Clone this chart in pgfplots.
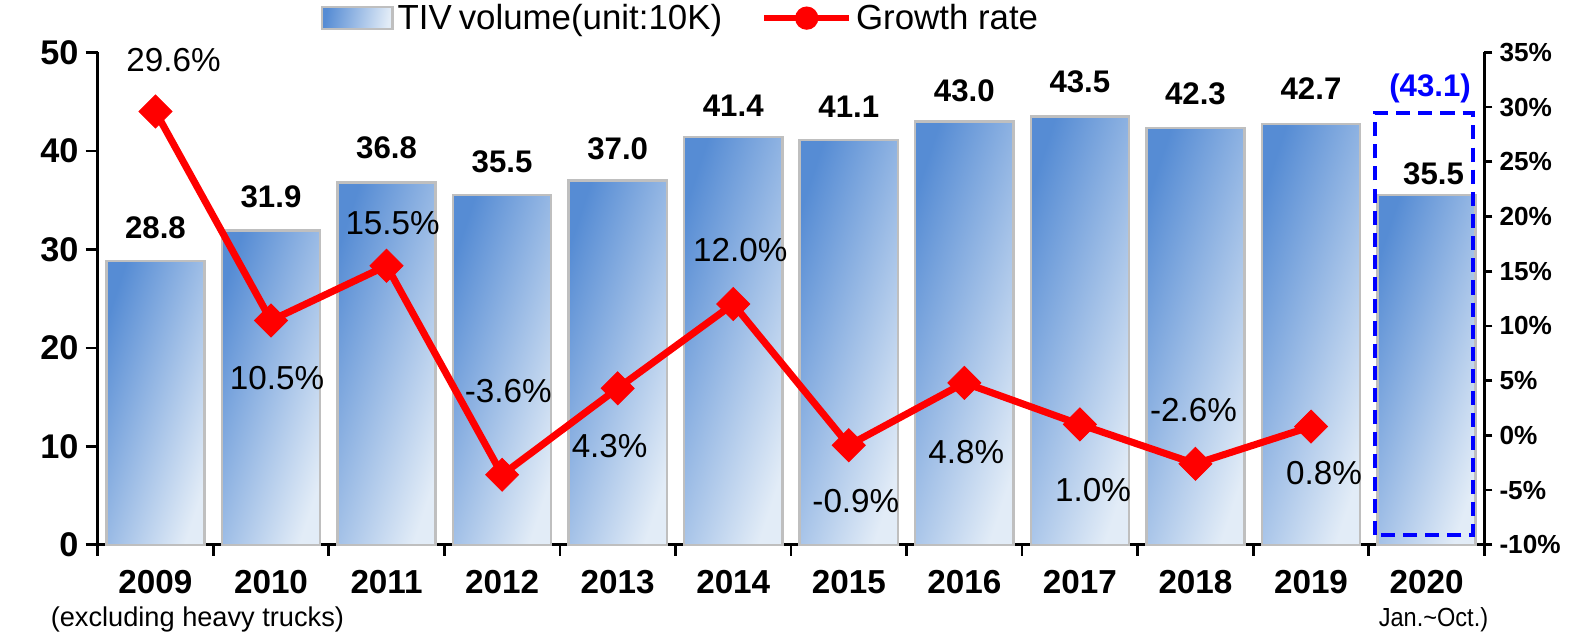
\documentclass[border=0pt]{standalone}
\usepackage{fontspec}
\setmainfont{Liberation Sans}
\newfontfamily\narrowfont[FakeStretch=0.9]{Liberation Sans}
\usepackage{pgfplots}
\usepackage{pgfplotstable}
\pgfplotsset{compat=1.18}
\definecolor{bardark}{RGB}{86,140,212}
\definecolor{barlight}{RGB}{226,236,247}
\definecolor{barborder}{RGB}{191,191,191}
\definecolor{linered}{RGB}{255,0,0}
\definecolor{boxblue}{RGB}{0,0,255}

\pgfplotstableread{
x y lab dx dy
0 28.8 28.8 0 16.5
1 31.9 31.9 0 17
2 36.8 36.8 0 17
3 35.5 35.5 0 16.5
4 37.0 37.0 0 15.5
5 41.4 41.4 0 15.5
6 41.1 41.1 0 16.5
7 43.0 43.0 0 15
8 43.5 43.5 0 17
9 42.3 42.3 0 17
10 42.7 42.7 0 17.5
11 35.5 35.5 3.5 10.5
}\bartable

\pgfplotstableread{
x y lab dx dy
0 29.6 29.6 9 25.3
1 10.5 10.5 3 -28.5
2 15.5 15.5 3 21
3 -3.6 -3.6 3 41.7
4 4.3 4.3 -4 -28.7
5 12.0 12.0 3.5 27
6 -0.9 -0.9 3.5 -27.5
7 4.8 4.8 1 -34.5
8 1.0 1.0 6.5 -32.7
9 -2.6 -2.6 -1 26.8
10 0.8 0.8 6.5 -23.2
}\growthtable

\begin{document}
\begin{tikzpicture}
\useasboundingbox (-48.5pt,-45pt) rectangle (735.5pt,270.5pt);
\begin{axis}[
  at={(0pt,0pt)}, anchor=south west,
  scale only axis, width=688.5pt, height=244.5pt,
  xmin=-0.5, xmax=11.5, ymin=0, ymax=50,
  clip=false,
  axis x line*=bottom, axis y line*=left,
  axis line style={line width=1.3pt, black},
  tick align=outside,
  xtick={0,...,11},
  xticklabels={2009,2010,2011,2012,2013,2014,2015,2016,2017,2018,2019,2020},
  minor xtick={-0.5,0.5,...,11.5},
  major x tick style={draw=none},
  minor x tick style={line width=1.3pt, black},
  minor tick length=5.5pt,
  major tick length=6pt,
  ytick={0,10,...,50},
  yticklabels={0,10,20,30,40,50},
  y tick style={line width=1.3pt, black},
  xticklabel style={font=\bfseries\fontsize{16.5}{18}\selectfont, yshift=-3pt},
  yticklabel style={font=\bfseries\fontsize{17}{19}\selectfont},
  bar width=0.85,
]
\pgfplotsinvokeforeach{0,...,11}{
\addplot[ybar, draw=barborder, line width=1.2pt, top color=bardark, bottom color=barlight, shading angle=72,
  x filter/.expression={abs(x-#1)<0.1 ? x : nan},
  point meta=explicit symbolic,
  nodes near coords,
  visualization depends on={\thisrow{dx} \as \ldx},
  visualization depends on={\thisrow{dy} \as \ldy},
  every node near coord/.append style={font=\bfseries\fontsize{15.5}{17}\selectfont, anchor=center, xshift=\ldx pt, yshift=\ldy pt, text=black}
] table[x=x, y=y, meta=lab] {\bartable};
}
\draw[boxblue, line width=2pt, dash pattern=on 7pt off 4pt] (axis cs:10.55,1.0) rectangle (axis cs:11.40,43.8);
\node[font=\bfseries\fontsize{15.5}{17}\selectfont, text=boxblue] at (axis cs:11.03,46.3) {(43.1)};
\node[font=\fontsize{13.5}{15}\selectfont, yshift=-37pt] at (axis cs:0.363,0) {(excluding heavy trucks)};
\node[font=\narrowfont\fontsize{13}{15}\selectfont, yshift=-37pt] at (axis cs:11.06,0) {Jan.\textasciitilde Oct.)};
\end{axis}

\begin{axis}[
  at={(0pt,0pt)}, anchor=south west,
  scale only axis, width=688.5pt, height=244.5pt,
  xmin=-0.5, xmax=11.5, ymin=-10, ymax=35,
  clip=false,
  axis x line=none, axis y line*=right,
  axis line style={line width=1.3pt, black},
  tick align=outside,
  major tick length=4pt,
  ytick={-10,-5,...,35},
  yticklabels={-10\%,-5\%,0\%,5\%,10\%,15\%,20\%,25\%,30\%,35\%},
  y tick style={line width=1.3pt, black},
  yticklabel style={font=\bfseries\fontsize{13}{15}\selectfont},
  legend columns=2,
  legend style={at={(0.1605,1.0695)}, anchor=west, draw=none, fill=none, inner sep=0pt,
    font=\fontsize{17.3}{19}\selectfont,
    /tikz/every even column/.append style={column sep=17.5pt}},
  legend cell align=left,
]
\addlegendimage{legend image code/.code={\draw[draw=barborder, line width=1.2pt, top color=bardark, bottom color=barlight, shading angle=80] (0pt,-5.5pt) rectangle (35pt,5.5pt);}}
\addlegendentry{TIV\hspace{0.2em}volume(unit:10K)}
\addplot[linered, line width=3.5pt, mark=square*, mark size=5.8pt,
  mark options={solid, rotate=45, line width=0.4pt},
  point meta=explicit symbolic,
  nodes near coords={\pgfplotspointmeta\%},
  visualization depends on={\thisrow{dx} \as \ldx},
  visualization depends on={\thisrow{dy} \as \ldy},
  every node near coord/.append style={font=\fontsize{16.5}{18}\selectfont, anchor=center, xshift=\ldx pt, yshift=\ldy pt, text=black},
  legend image code/.code={\draw[linered, line width=3pt] (0pt,0pt) -- (42pt,0pt); \fill[linered] (21pt,0pt) circle (4pt);}
] table[x=x, y=y, meta=lab] {\growthtable};
\addlegendentry{Growth rate}
\end{axis}
\end{tikzpicture}
\end{document}
